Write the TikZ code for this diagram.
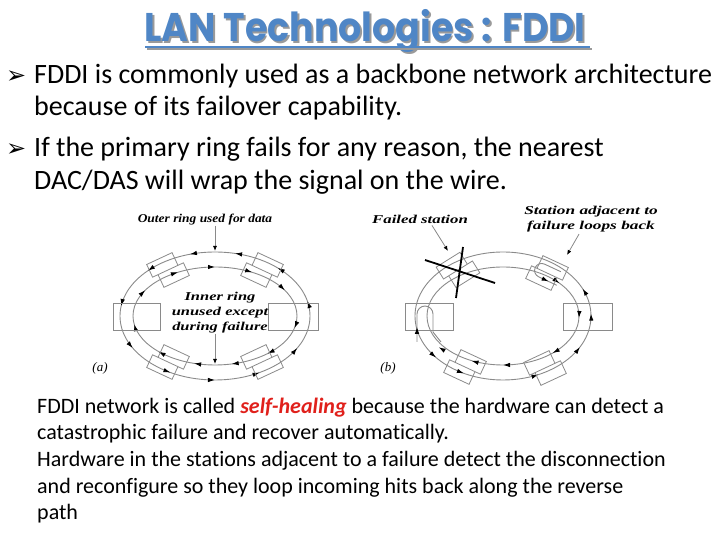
\documentclass[tikz,border=0pt]{standalone}
\usepackage{fontspec}
\setmainfont{Carlito}[Ligatures={NoCommon,NoContextual}]
\newfontfamily\titlefont{Poppins}
\newfontfamily\symfont{DejaVu Sans}
\newfontfamily\figfont{Liberation Serif}
\usepackage{tikz}
\usetikzlibrary{arrows,arrows.meta,positioning,calc,decorations.markings}
\definecolor{titleblue}{HTML}{4F86C6}
\definecolor{shadowgray}{HTML}{9A9A9A}
\definecolor{ringgray}{HTML}{8A8A8A}
\definecolor{healred}{HTML}{E0201B}

\tikzset{
  ring/.style={ringgray, line width=0.9pt},
  stationbox/.style={draw=ringgray, line width=0.8pt},
  outerflow/.style={postaction={decorate}, decoration={markings,
    mark=between positions 0.03 and 0.99 step 0.09 with {\arrow{Latex[length=7pt,width=4.5pt,color=black]}}}},
  innerflow/.style={postaction={decorate}, decoration={markings,
    mark=between positions 0.07 and 0.99 step 0.09 with {\arrowreversed{Latex[length=7pt,width=4.5pt,color=black]}}}},
  figlabel/.style={font=\figfont\bfseries\itshape\fontsize{12}{15}\selectfont, inner sep=0pt},
  partlabel/.style={font=\figfont\itshape\fontsize{13}{15}\selectfont, inner sep=0pt},
  bodyline/.style={font=\fontsize{28}{32}\selectfont, anchor=base west, inner sep=0pt},
  bulletmark/.style={font=\symfont\fontsize{24}{26}\selectfont, anchor=base west, inner sep=0pt},
  noteline/.style={font=\fontsize{22}{26}\selectfont, anchor=base west, inner sep=0pt},
  pointer/.style={ringgray, line width=0.8pt, -{Latex[length=5pt,width=4pt,color=black]}},
  failx/.style={black, line width=1.8pt}
}

\begin{document}
\begin{tikzpicture}[x=1pt,y=1pt]
\useasboundingbox (0,0) rectangle (720,540);

% title with shadow
\node[anchor=base, font=\titlefont\bfseries\fontsize{40}{44}\selectfont] (title) at (365,498.3)
  {\scalebox{0.91}[1]{\makebox[0pt][l]{\hspace{2pt}\raisebox{-2pt}{\textcolor{shadowgray}{LAN Technologies : FDDI}}}\textcolor{titleblue}{LAN Technologies : FDDI}}};
\draw[shadowgray, line width=2.5pt] (147,491) -- (592,491);
\draw[titleblue, line width=2.5pt] (145,493) -- (590,493);

% bullet points
\node[bulletmark] (bul1) at (6,456.5) {➢};
\node[bodyline] (line1) at (34,456.5) {FDDI is commonly used as a backbone network architecture};
\node[bodyline] (line2) at (34,424) {because of its failover capability.};
\node[bulletmark] (bul2) at (6,383.5) {➢};
\node[bodyline] (line3) at (34,383.5) {If the primary ring fails for any reason, the nearest};
\node[bodyline] (line4) at (34,350) {DAC/DAS will wrap the signal on the wire.};

% (a) normal operation
\coordinate (ca) at (215,224);
\draw[ring, outerflow] (ca) ellipse [x radius=95, y radius=64];
\draw[ring, innerflow] (ca) ellipse [x radius=82, y radius=49];
\draw[stationbox] (113,210) rectangle (160,237);
\draw[stationbox] (268,210) rectangle (318,237);
\foreach \sx/\sy/\rot/\fx/\fy in {168/270/25/1/1, 262/270/-25/-1/1, 168/178/-25/1/-1, 262/178/25/-1/-1}
  \draw[stationbox, shift={(\sx,\sy)}, rotate=\rot, xscale=\fx, yscale=\fy]
    (-17,0) rectangle (11,14) (-11,-14) rectangle (17,0);

\node[figlabel] (outerlbl) at (205,320) {\scalebox{1.12}[1]{Outer ring used for data}};
\coordinate (outertop) at (215,289);
\draw[pointer] (outerlbl.south -| outertop) -- (outertop);
\node[figlabel, align=center] (innerlbl) at (220,227)
  {\scalebox{1.37}[1]{Inner ring}\\\scalebox{1.37}[1]{unused except}\\\scalebox{1.37}[1]{during failure}};
\coordinate (innerbot) at (215,176);
\draw[pointer] (innerlbl.south -| innerbot) -- (innerbot);
\node[partlabel] (alabel) at (100,172) {(a)};

% (b) wrapped ring
\coordinate (cb) at (503,224);
\draw[ring, postaction={decorate}, decoration={markings,
  mark=at position 0.005 with {\arrow{Latex[length=7pt,width=4.5pt,color=black]}},
  mark=at position 0.06 with {\arrow{Latex[length=7pt,width=4.5pt,color=black]}},
  mark=at position 0.6 with {\arrow{Latex[length=7pt,width=4.5pt,color=black]}},
  mark=at position 0.667 with {\arrow{Latex[length=7pt,width=4.5pt,color=black]}},
  mark=at position 0.825 with {\arrow{Latex[length=7pt,width=4.5pt,color=black]}},
  mark=at position 0.93 with {\arrow{Latex[length=7pt,width=4.5pt,color=black]}}}]
  (cb) ellipse [x radius=88, y radius=64];
\draw[ring, postaction={decorate}, decoration={markings,
  mark=at position 0.1 with {\arrowreversed{Latex[length=7pt,width=4.5pt,color=black]}},
  mark=at position 0.995 with {\arrowreversed{Latex[length=7pt,width=4.5pt,color=black]}},
  mark=at position 0.88 with {\arrowreversed{Latex[length=7pt,width=4.5pt,color=black]}},
  mark=at position 0.75 with {\arrowreversed{Latex[length=7pt,width=4.5pt,color=black]}},
  mark=at position 0.67 with {\arrowreversed{Latex[length=7pt,width=4.5pt,color=black]}},
  mark=at position 0.58 with {\arrowreversed{Latex[length=7pt,width=4.5pt,color=black]}}}]
  (cb) ellipse [x radius=76, y radius=49];
\draw[stationbox] (405,210) rectangle (453,237);
\draw[stationbox] (563,210) rectangle (612,237);
\foreach \sx/\sy/\rot/\fx/\fy in {458/270/32/1/1, 547/267/-25/-1/1, 465/173/-25/1/-1, 545/172/25/-1/-1}
  \draw[stationbox, shift={(\sx,\sy)}, rotate=\rot, xscale=\fx, yscale=\fy]
    (-17,0) rectangle (11,14) (-11,-14) rectangle (17,0);

% loop back at the station next to the failure
\draw[ringgray, line width=0.9pt, shift={(547,267)}, rotate=-25, postaction={decorate}, decoration={markings,
  mark=at position 0.85 with {\arrow{Latex[length=7pt,width=4.5pt,color=black]}}}]
  (12,7) -- (-6,7) arc[start angle=90, end angle=270, radius=7] -- (14,-7);
\draw[ringgray, line width=0.9pt, postaction={decorate}, decoration={markings,
  mark=at position 0.18 with {\arrow{Latex[length=7pt,width=4.5pt,color=black]}}}]
  (417,198) -- (417,226) arc[start angle=180, end angle=0, radius=8] -- (433,208) -- (441,198);

% failed station
\draw[failx] (425,280) -- (495,257);
\draw[failx] (463,293) -- (456,242);

\node[figlabel] (faillbl) at (420,321) {\scalebox{1.4}[1]{Failed station}};
\coordinate (failtip) at (448,289);
\draw[pointer] ($(faillbl.south)+(12,-2)$) -- (failtip);
\node[figlabel, align=center] (looplbl) at (591,321)
  {\scalebox{1.44}[1]{Station adjacent to}\\\scalebox{1.44}[1]{failure loops back}};
\coordinate (looptip) at (567,285);
\draw[pointer] ($(looplbl.south)+(-12,-2)$) -- (looptip);
\node[partlabel] (blabel) at (388,172) {(b)};

% explanation
\node[noteline] (note1) at (37,126.7) {FDDI network is called \textcolor{healred}{\bfseries\itshape self-healing} because the hardware can detect a};
\node[noteline] (note2) at (37,100) {catastrophic failure and recover automatically.};
\node[noteline] (note3) at (37,73.3) {Hardware in the stations adjacent to a failure detect the disconnection};
\node[noteline] (note4) at (37,46.7) {and reconfigure so they loop incoming hits back along the reverse};
\node[noteline] (note5) at (37,20.7) {path};
\end{tikzpicture}
\end{document}
